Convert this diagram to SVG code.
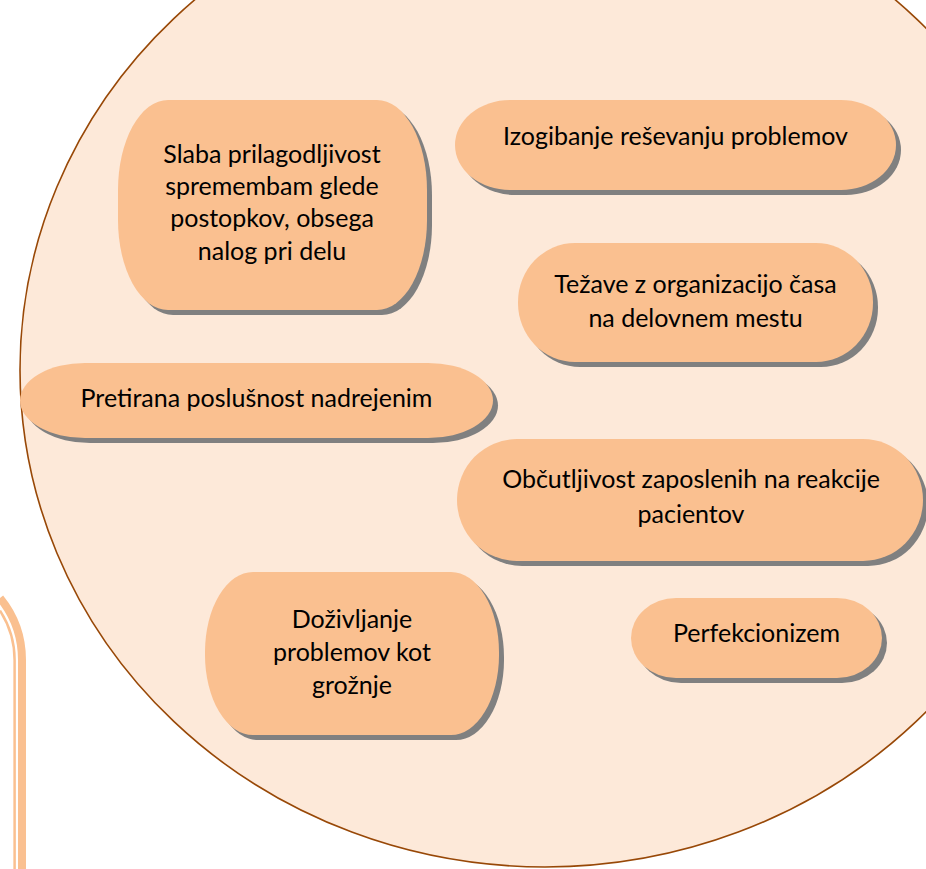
<svg xmlns="http://www.w3.org/2000/svg" width="926" height="869" viewBox="0 0 926 869">
<style>
.bg{fill:#fde9d9;stroke:#984807;stroke-width:1.6}
.deco{fill:none;stroke:#fac090}
.sh{fill:#808080}
.nd{fill:#fac090}
.t{font-family:Lato,"Open Sans",sans-serif;font-size:25px;fill:#000;text-anchor:middle}
</style>
<rect width="926" height="869" fill="#fff"/>
<g id="decoration">
<path class="deco" stroke-width="8" d="M0 598 A98.4 98.4 0 0 1 22 660 V869"/>
<path class="deco" stroke-width="2.5" d="M0 610.6 A91 91 0 0 1 14.6 660 V869"/>
</g>
<g id="background">
<ellipse class="bg" cx="545" cy="370" rx="525" ry="497"/>
</g>
<g id="connectors"></g>
<g id="node1">
<rect class="sh" x="123" y="105" width="309" height="210" rx="50" ry="90"/>
<rect class="nd" x="118" y="100" width="309" height="210" rx="50" ry="90"/>
<text class="t" x="272" y="163">Slaba prilagodljivost</text>
<text class="t" x="272" y="195">spremembam glede</text>
<text class="t" x="272" y="227">postopkov, obsega</text>
<text class="t" x="272" y="260">nalog pri delu</text>
</g>
<g id="node2">
<rect class="sh" x="460" y="105" width="441" height="90" rx="55" ry="45"/>
<rect class="nd" x="455" y="100" width="441" height="90" rx="55" ry="45"/>
<text class="t" x="675.5" y="145">Izogibanje reševanju problemov</text>
</g>
<g id="node3">
<rect class="sh" x="523" y="248" width="355" height="119" rx="57" ry="59"/>
<rect class="nd" x="518" y="243" width="355" height="119" rx="57" ry="59"/>
<text class="t" x="695.5" y="293">Težave z organizacijo časa</text>
<text class="t" x="695.5" y="327">na delovnem mestu</text>
</g>
<g id="node4">
<rect class="sh" x="25" y="368" width="473" height="75" rx="65" ry="37.5"/>
<rect class="nd" x="20" y="363" width="473" height="75" rx="65" ry="37.5"/>
<text class="t" x="256.5" y="407">Pretirana poslušnost nadrejenim</text>
</g>
<g id="node5">
<rect class="sh" x="462" y="444" width="466" height="122" rx="60" ry="61"/>
<rect class="nd" x="457" y="439" width="466" height="122" rx="60" ry="61"/>
<text class="t" x="691" y="488">Občutljivost zaposlenih na reakcije</text>
<text class="t" x="691" y="523">pacientov</text>
</g>
<g id="node6">
<rect class="sh" x="636" y="603" width="251" height="80" rx="45" ry="40"/>
<rect class="nd" x="631" y="598" width="251" height="80" rx="45" ry="40"/>
<text class="t" x="756.5" y="642">Perfekcionizem</text>
</g>
<g id="node7">
<rect class="sh" x="210" y="577" width="294" height="163" rx="48" ry="80"/>
<rect class="nd" x="205" y="572" width="294" height="163" rx="48" ry="80"/>
<text class="t" x="352" y="628">Doživljanje</text>
<text class="t" x="352" y="661">problemov kot</text>
<text class="t" x="352" y="694">grožnje</text>
</g>
</svg>
